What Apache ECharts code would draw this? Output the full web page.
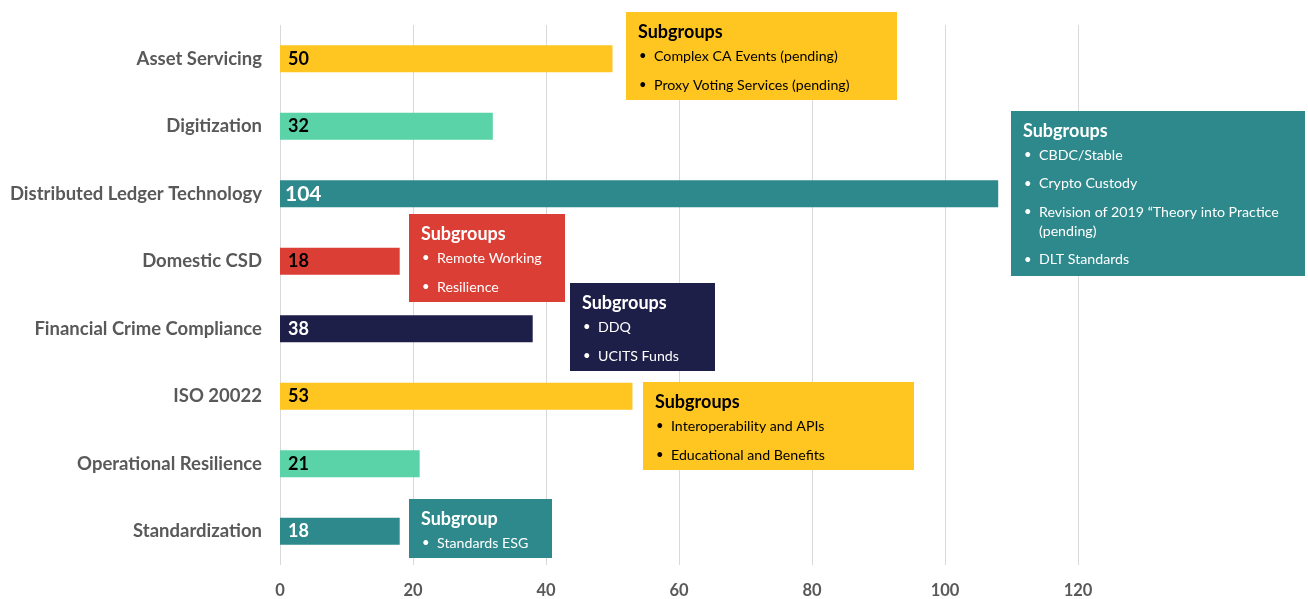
<!DOCTYPE html>
<html><head><meta charset="utf-8">
<script src="https://cdn.jsdelivr.net/npm/echarts@6/dist/echarts.min.js"></script>
<style>html,body{margin:0;padding:0;background:#fff}#c{width:1308px;height:599px}</style>
</head><body><div id="c"></div>
<script>
const categories = ["Asset Servicing","Digitization","Distributed Ledger Technology","Domestic CSD","Financial Crime Compliance","ISO 20022","Operational Resilience","Standardization"];
const barValues = [50, 32, 108, 18, 38, 53, 21, 18];
const valueLabels = ["50","32","104","18","38","53","21","18"];
const barColors = ["#FFC520","#5AD3A8","#2E898C","#DB3E34","#1E1F48","#FFC520","#5AD3A8","#2E898C"];
const labelColors = ["#000","#000","#fff","#000","#fff","#000","#000","#fff"];
const xTicks = [0,20,40,60,80,100,120];

const boxes = [
  {x:626,y:12,w:271,h:88,fill:"#FFC520",color:"#000",title:"Subgroups",items:[["Complex CA Events (pending)"],["Proxy Voting Services (pending)"]],gap:29},
  {x:1011,y:111,w:294,h:165,fill:"#2E898C",color:"#fff",title:"Subgroups",items:[["CBDC/Stable"],["Crypto Custody"],["Revision of 2019 \u201CTheory into Practice","(pending)"],["DLT Standards"]],gap:28.5},
  {x:409,y:214,w:156,h:88,fill:"#DB3E34",color:"#fff",title:"Subgroups",items:[["Remote Working"],["Resilience"]],gap:29},
  {x:570,y:283,w:145,h:88,fill:"#1E1F48",color:"#fff",title:"Subgroups",items:[["DDQ"],["UCITS Funds"]],gap:29},
  {x:643,y:382,w:271,h:88,fill:"#FFC520",color:"#000",title:"Subgroups",items:[["Interoperability and APIs"],["Educational and Benefits"]],gap:29},
  {x:409,y:499,w:143,h:59,fill:"#2E898C",color:"#fff",title:"Subgroup",items:[["Standards ESG"]],gap:29}
];

const FONT = "Lato, 'Open Sans', sans-serif";
const graphics = [];
boxes.forEach(b => {
  graphics.push({type:'rect',shape:{x:b.x,y:b.y,width:b.w,height:b.h},style:{fill:b.fill},z:100});
  graphics.push({type:'text',x:b.x+12,y:b.y+20,style:{text:b.title,fill:b.color,font:"bold 18px "+FONT,verticalAlign:'middle'},z:101});
  let yy = b.y+44;
  b.items.forEach(lines => {
    graphics.push({type:'text',x:b.x+13,y:yy,style:{text:"\u2022",fill:b.color,font:"13px "+FONT,verticalAlign:'middle'},z:101});
    lines.forEach((ln,i) => {
      graphics.push({type:'text',x:b.x+28,y:yy+i*19,style:{text:ln,fill:b.color,font:"14.2px "+FONT,verticalAlign:'middle'},z:101});
    });
    yy += b.gap + (lines.length-1)*19;
  });
});

const chart = echarts.init(document.getElementById('c'));
chart.setOption({
  animation:false,
  grid:{left:280,right:230,top:25,bottom:33},
  xAxis:{type:'value',min:0,max:120,interval:20,
    axisLine:{show:false},axisTick:{show:false},
    splitLine:{lineStyle:{color:'#D9D9D9',width:1}},
    axisLabel:{color:'#595959',fontFamily:FONT,fontWeight:'bold',fontSize:16.5,margin:17}},
  yAxis:{type:'category',data:categories,inverse:true,
    axisLine:{show:false},axisTick:{show:false},
    axisLabel:{color:'#595959',fontFamily:FONT,fontWeight:'bold',fontSize:18.5,margin:18}},
  series:[{type:'bar',barWidth:'40%',
    data:barValues.map((v,i)=>({value:v,itemStyle:{color:barColors[i]},
      label:{show:true,position:'insideLeft',offset:[0,0],formatter:valueLabels[i],color:labelColors[i],
        fontFamily:FONT,fontWeight:'bold',fontSize:i===2?21:18,distance:i===2?5:8}}))}],
  graphic:graphics
});
</script></body></html>
